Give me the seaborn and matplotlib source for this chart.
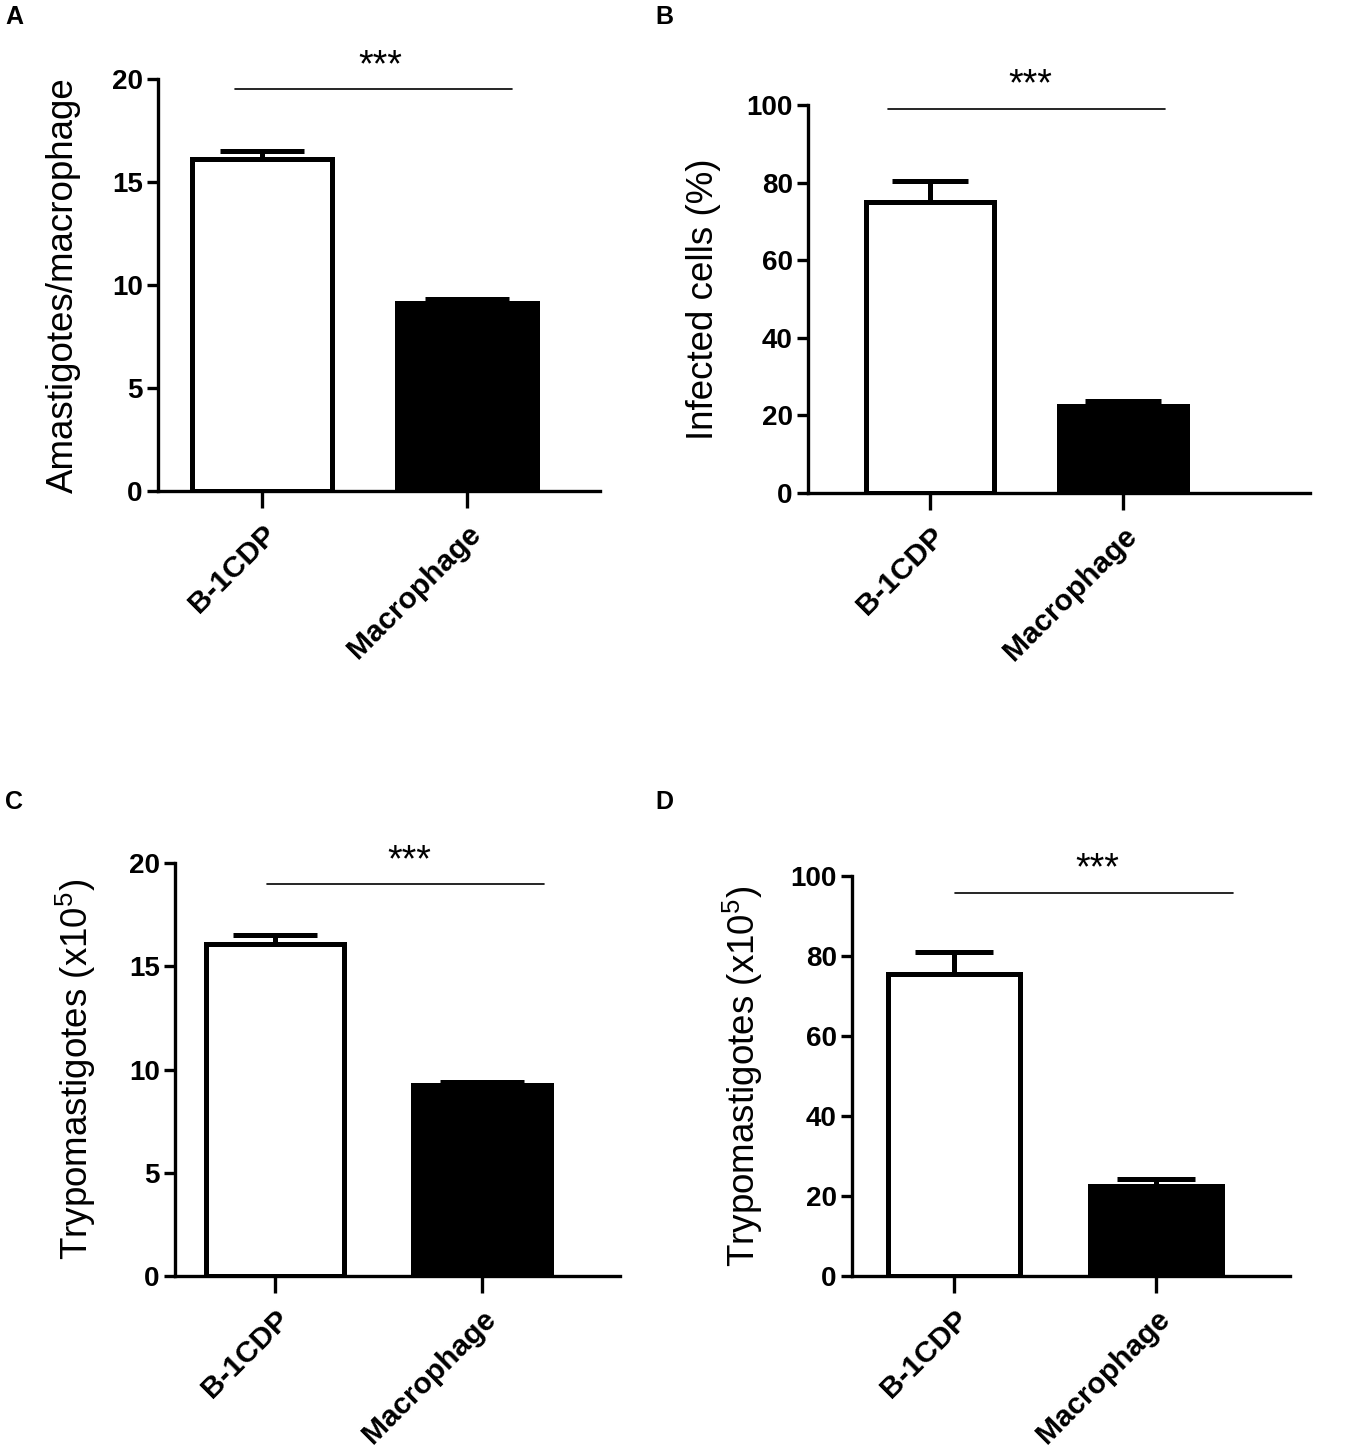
import numpy as np
import pandas as pd
import matplotlib
matplotlib.use('Agg')
import matplotlib.pyplot as plt
import seaborn as sns

sns.set_style('ticks')
plt.rcParams['font.family'] = ['Liberation Sans', 'DejaVu Sans']
plt.rcParams['mathtext.fontset'] = 'custom'
plt.rcParams['mathtext.rm'] = 'Liberation Sans'
for k in ['text.color', 'axes.labelcolor', 'xtick.color', 'ytick.color', 'axes.edgecolor']:
    plt.rcParams[k] = 'black'

# data
groups = ['B-1CDP', 'Macrophage']
amastigotes_mean = [16.1, 9.15]
amastigotes_sem = [0.4, 0.15]
infected_mean = [75.0, 22.5]
infected_sem = [5.5, 1.3]
trypo_c_mean = [16.1, 9.25]
trypo_c_sem = [0.4, 0.15]
trypo_d_mean = [75.5, 22.6]
trypo_d_sem = [5.5, 1.6]

panel_letters = ['A', 'B', 'C', 'D']
ylabels = ['Amastigotes/macrophage', 'Infected cells (%)',
           r'Trypomastigotes (x10$^{\mathregular{5}}$)',
           r'Trypomastigotes (x10$^{\mathregular{5}}$)']
yticks_small = [0, 5, 10, 15, 20]
yticks_big = [0, 20, 40, 60, 80, 100]
sig_text = '***'

W, H = 1350, 1454
fig = plt.figure(figsize=(W / 100, H / 100), dpi=100)

# pixel boxes: left, right, top, bottom of each axes
boxes = [(158, 600, 79, 491), (808, 1310, 105, 493),
         (175, 620, 863, 1276), (852, 1290, 876, 1276)]
xlims = [(-0.507, 1.649), (-0.632, 1.969), (-0.483, 1.667), (-0.505, 1.663)]
widths = [0.68, 0.66, 0.67, 0.65]
sig_lines = [(-0.13, 1.22, 19.5), (-0.22, 1.22, 99), (-0.04, 1.30, 19.0), (0.005, 1.38, 95.75)]
star_pos = [(0.576, 20.6), (0.52, 105.0), (0.65, 20.1), (0.71, 101.8)]
letter_pos = [(5, 5), (655, 5), (5, 790), (655, 790)]
labelpads = [22, 18, 22, 18]

means = [amastigotes_mean, infected_mean, trypo_c_mean, trypo_d_mean]
sems = [amastigotes_sem, infected_sem, trypo_c_sem, trypo_d_sem]
yticks = [yticks_small, yticks_big, yticks_small, yticks_big]

pal = {'B-1CDP': 'white', 'Macrophage': 'black'}

for i in range(4):
    l, r, t, b = boxes[i]
    ax = fig.add_axes([l / W, 1 - b / H, (r - l) / W, (b - t) / H])
    df = pd.DataFrame({'group': groups, 'value': means[i]})
    sns.barplot(data=df, x='group', y='value', hue='group', palette=pal,
                order=groups, hue_order=groups, saturation=1, width=widths[i],
                edgecolor='black', linewidth=3.6, errorbar=None, legend=False, ax=ax)
    # upper error bar only
    cap = widths[i] * 0.6 * (r - l) / (xlims[i][1] - xlims[i][0]) * 0.72
    ax.errorbar(np.arange(len(groups)), means[i], yerr=[np.zeros(len(groups)), sems[i]],
                fmt='none', ecolor='black', elinewidth=3.6, capsize=cap / 2,
                capthick=3.6, zorder=1)
    ax.set_xlim(*xlims[i])
    ax.set_ylim(yticks[i][0], yticks[i][-1])
    ax.set_yticks(yticks[i])
    ax.set_xlabel('')
    ax.set_ylabel(ylabels[i], fontsize=26.5, labelpad=labelpads[i])
    sns.despine(ax=ax)
    for s in ['left', 'bottom']:
        ax.spines[s].set_linewidth(2.4)
    ax.tick_params(axis='y', length=8, width=2.4, labelsize=20, pad=3)
    ax.tick_params(axis='x', length=12, width=2.4, labelsize=21.5, pad=9)
    for lab in ax.get_yticklabels():
        lab.set_fontweight('bold')
    ax.set_xticks(range(len(groups)))
    ax.set_xticklabels(groups, rotation=45, ha='right', rotation_mode='anchor',
                       fontweight='bold')
    for spine in ax.spines.values():
        spine.set_zorder(3)

    x0, x1, ys = sig_lines[i]
    ax.plot([x0, x1], [ys, ys], color='black', lw=1.2, clip_on=False)
    sx, sy = star_pos[i]
    ax.text(sx, sy, sig_text, ha='center', va='center', fontsize=27, clip_on=False)

    lx, ly = letter_pos[i]
    fig.text(lx / W, 1 - ly / H, panel_letters[i], fontsize=18, fontweight='bold',
             ha='left', va='top')

fig.savefig('out.png', dpi=100, facecolor='white')
